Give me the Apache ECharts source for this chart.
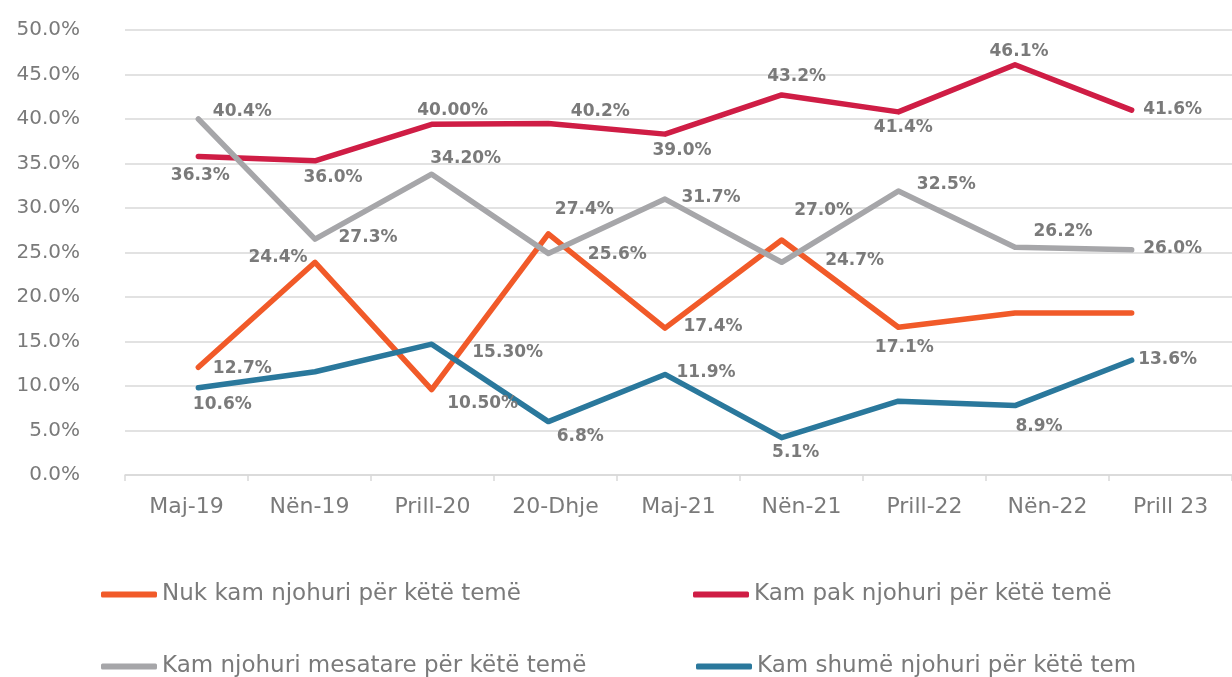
<!DOCTYPE html>
<html>
<head>
<meta charset="utf-8">
<script src="https://cdn.jsdelivr.net/npm/echarts@6/dist/echarts.min.js"></script>
<style>
  html, body { margin: 0; padding: 0; background: #fff; }
  #chart { width: 1232px; height: 677px; }
</style>
</head>
<body>
<div id="chart"></div>
<script>
// kategoritë (boshti X)
var categories = ["Maj-19", "Nën-19", "Prill-20", "20-Dhje", "Maj-21", "Nën-21", "Prill-22", "Nën-22", "Prill 23"];

// emrat e serive
var seriesNames = [
  "Nuk kam njohuri për këtë temë",
  "Kam pak njohuri për këtë temë",
  "Kam njohuri mesatare për këtë temë",
  "Kam shumë njohuri për këtë tem"
];

// vlerat e vijave (%)
var nukKam = [12.1, 23.9, 9.6, 27.1, 16.5, 26.4, 16.6, 18.2, 18.2];
var kamPak = [35.8, 35.3, 39.4, 39.5, 38.3, 42.7, 40.8, 46.1, 41.0];
var mesatare = [40.0, 26.5, 33.8, 24.9, 31.0, 23.9, 31.9, 25.6, 25.3];
var shume = [9.8, 11.6, 14.7, 6.0, 11.3, 4.2, 8.3, 7.8, 12.9];

// etiketat e të dhënave siç shfaqen
var nukKamLabels = ["12.7%", "24.4%", "10.50%", "27.4%", "17.4%", "27.0%", "17.1%", "", ""];
var kamPakLabels = ["36.3%", "36.0%", "40.00%", "40.2%", "39.0%", "43.2%", "41.4%", "46.1%", "41.6%"];
var mesatareLabels = ["40.4%", "27.3%", "34.20%", "25.6%", "31.7%", "24.7%", "32.5%", "26.2%", "26.0%"];
var shumeLabels = ["10.6%", "", "15.30%", "6.8%", "11.9%", "5.1%", "", "8.9%", "13.6%"];

// y ticks
var yMin = 0, yMax = 50, yStep = 5;

// zhvendosja e etiketave
var nukKamOff = [[44, 1], [-37, -5], [51, 14], [36, -24], [48, -2], [42, -29], [6, 20], [0, 0], [0, 0]];
var kamPakOff = [[2, 19], [18, 17], [21, -14], [52, -12], [17, 16], [15, -18], [5, 16], [4, -13], [41, -1]];
var mesatareOff = [[44, -7], [53, -2], [34, -16], [69, 1], [46, -2], [73, -2], [48, -7], [48, -16], [41, -1]];
var shumeOff = [[24, 17], [0, 0], [76, 8], [32, 15], [41, -2], [14, 15], [0, 0], [24, 21], [36, -1]];

var colors = ["#f15a29", "#cf1d45", "#a6a6a9", "#2a789c"];
var textGrey = "#7a7a7a";
var font = "DejaVu Sans";

function buildData(values, labels, offs) {
  var out = [];
  for (var i = 0; i < values.length; i++) {
    out.push({
      value: values[i],
      label: {
        show: labels[i] !== "",
        formatter: labels[i],
        offset: offs[i]
      }
    });
  }
  return out;
}

function makeSeries(idx, values, labels, offs) {
  return {
    name: seriesNames[idx],
    type: "line",
    xAxisIndex: 1,
    yAxisIndex: 1,
    symbol: "circle",
    symbolSize: 1,
    showSymbol: true,
    itemStyle: { color: colors[idx] },
    lineStyle: { width: 5.5, color: colors[idx], cap: "round", join: "round" },
    label: {
      show: true,
      position: "inside",
      color: textGrey,
      fontFamily: font,
      fontWeight: "bold",
      fontSize: 17
    },
    emphasis: { disabled: true },
    animation: false,
    data: buildData(values, labels, offs)
  };
}

function makeLegend(idx, left, top) {
  return {
    data: [seriesNames[idx]],
    left: left,
    top: top,
    icon: "roundRect",
    itemWidth: 56,
    itemHeight: 6,
    itemGap: 0,
    padding: 0,
    selectedMode: false,
    textStyle: { color: textGrey, fontFamily: font, fontSize: 23 }
  };
}

var chart = echarts.init(document.getElementById("chart"));

var option = {
  backgroundColor: "#fff",
  animation: false,
  grid: [
    { left: 125, right: -9, top: 30, bottom: 202 },
    { left: 140, right: 42, top: 30, bottom: 202 }
  ],
  xAxis: [
    {
      type: "category",
      gridIndex: 0,
      data: categories,
      boundaryGap: true,
      axisLine: { lineStyle: { color: "#d9d9d9", width: 1.5 } },
      axisTick: { show: true, length: 6, lineStyle: { color: "#d9d9d9", width: 1.5 } },
      axisLabel: { color: textGrey, fontFamily: font, fontSize: 22, margin: 21 }
    },
    {
      type: "category",
      gridIndex: 1,
      data: categories,
      boundaryGap: true,
      show: false
    }
  ],
  yAxis: [
    {
      type: "value",
      gridIndex: 0,
      min: yMin,
      max: yMax,
      interval: yStep,
      axisLine: { show: false },
      axisTick: { show: false },
      splitLine: { lineStyle: { color: "#d9d9d9", width: 1.5 } },
      axisLabel: {
        color: textGrey,
        fontFamily: font,
        fontSize: 20,
        margin: 45,
        formatter: function (v) { return v.toFixed(1) + "%"; }
      }
    },
    {
      type: "value",
      gridIndex: 1,
      min: yMin,
      max: yMax,
      interval: yStep,
      show: false
    }
  ],
  legend: [
    makeLegend(0, 101, 583),
    makeLegend(1, 693, 583),
    makeLegend(2, 101, 655),
    makeLegend(3, 696, 655)
  ],
  series: [
    makeSeries(0, nukKam, nukKamLabels, nukKamOff),
    makeSeries(1, kamPak, kamPakLabels, kamPakOff),
    makeSeries(2, mesatare, mesatareLabels, mesatareOff),
    makeSeries(3, shume, shumeLabels, shumeOff)
  ]
};

chart.setOption(option);
</script>
</body>
</html>
